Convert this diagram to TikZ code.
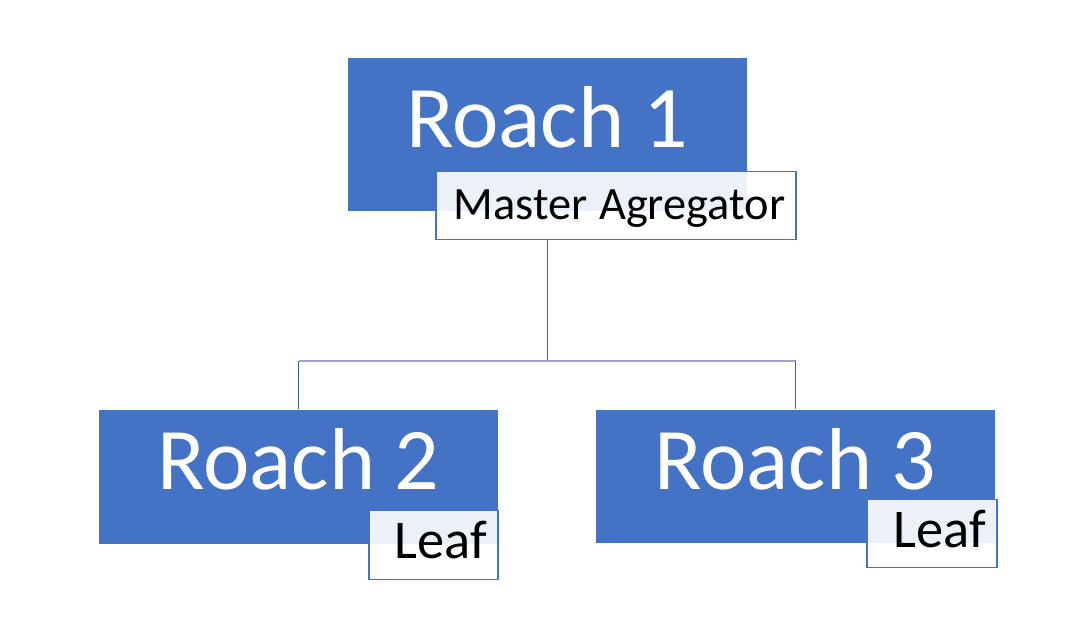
\documentclass[tikz,border=0pt]{standalone}
\usepackage{fontspec}
\setmainfont{Carlito}
\usepackage{tikz}
\definecolor{roachblue}{HTML}{4472C4}
\definecolor{linkdark}{HTML}{3A5DA8}
\definecolor{linklight}{HTML}{95A9D2}
\tikzset{
	roachbox/.style={fill=roachblue, text=white, minimum width=3.99cm, inner xsep=0pt,
		text height=0.57cm, text depth=0.32cm, inner ysep=#1, font=\fontsize{25}{30}\selectfont},
	tagbox/.style={draw=roachblue, line width=0.4pt, fill=white, fill opacity=0.9, text opacity=1,
		text=black, text width=#1, align=right, inner xsep=0.11cm,
		text height=0.33cm, text depth=0.06cm, inner ysep=0.147cm},
	vlink/.style={draw=linkdark, line width=0.5pt},
	hlink/.style={draw=linklight, line width=0.5pt}
}
\newcommand{\roachtag}[5] % {nom}{x}{y}{largeur}{texte}
{
	\node [tagbox=#4] (#1) at (#2,#3) {#5};
}

\begin{document}
\begin{tikzpicture}[x=0.01cm, y=-0.01cm]
	\useasboundingbox (0,0) rectangle (1072,621);

	%les trois roach
	\node [roachbox=0.32cm] (roach1) at (547.5,134.5) {Roach 1};
	\node [roachbox=0.225cm] (roach2) at (298.5,477) {Roach 2};
	\node [roachbox=0.22cm] (roach3) at (795.5,476.5) {Roach 3};

	\roachtag{master}{616}{205.5}{3.38cm}{\fontsize{13.2}{16}\selectfont Master Agregator}
	\roachtag{leaf2}{433.5}{545}{1.07cm}{\fontsize{15.5}{18}\selectfont Leaf}
	\roachtag{leaf3}{932}{533.5}{1.08cm}{\fontsize{15.5}{18}\selectfont Leaf}

	\coordinate (fork) at (547.5,361);
	\draw [vlink] (roach1 |- master.south) -- (fork);
	\draw [hlink] (fork -| roach2) -- (fork -| roach3);
	\draw [vlink] (fork -| roach2) -- (roach2.north);
	\draw [vlink] (fork -| roach3) -- (roach3.north);
\end{tikzpicture}
\end{document}
